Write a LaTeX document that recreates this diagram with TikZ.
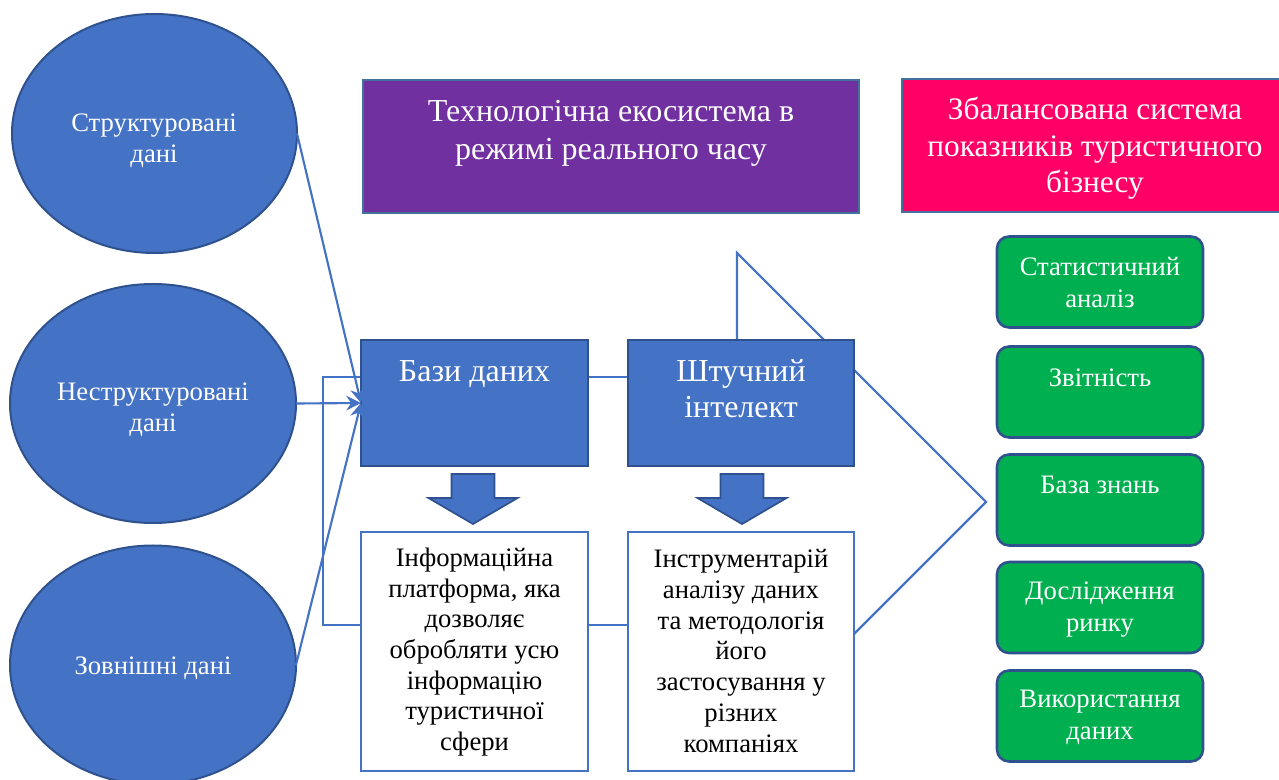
\documentclass[tikz,border=0pt]{standalone}
\usepackage{fontspec}
\setmainfont{Liberation Serif}
\usetikzlibrary{arrows.meta,shapes.geometric,backgrounds}
\definecolor{fillblue}{HTML}{4472C4}
\definecolor{edgeblue}{HTML}{2F528F}
\definecolor{steel}{HTML}{41719C}
\definecolor{purplebox}{HTML}{7030A0}
\definecolor{pinkbox}{HTML}{FF0066}
\definecolor{greenbox}{HTML}{00B050}
\begin{document}
\begin{tikzpicture}[x=0.75pt,y=-0.75pt,
  sz/.style 2 args={minimum width=#1*0.75pt, minimum height=#2*0.75pt},
  ell/.style={ellipse, fill=fillblue, draw=edgeblue, line width=1.5pt, inner sep=0pt, outer sep=0pt},
  bluebox/.style={rectangle, fill=fillblue, draw=edgeblue, line width=1.6pt, inner sep=0pt, outer sep=0pt},
  whitebox/.style={rectangle, fill=white, draw=fillblue, line width=1.6pt, inner sep=0pt, outer sep=0pt},
  headbox/.style={rectangle, draw=steel, line width=1.5pt, inner sep=0pt, outer sep=0pt},
  greenrect/.style={rectangle, rounded corners=9pt, fill=greenbox, draw=edgeblue, line width=1.9pt, inner sep=0pt, outer sep=0pt},
  wtext/.style={text=white, align=center, inner sep=0pt},
  btext/.style={text=black, align=center, inner sep=0pt},
  fsmall/.style={font=\fontsize{20}{23.5}\selectfont},
  fwhite/.style={font=\fontsize{20}{23}\selectfont},
  fgreen/.style={font=\fontsize{20}{24}\selectfont},
  fbig/.style={font=\fontsize{24}{28.5}\selectfont},
  fpink/.style={font=\fontsize{23.5}{27.5}\selectfont},
  fai/.style={font=\fontsize{24}{27}\selectfont},
  conn/.style={draw=fillblue, line width=1.6pt},
  arr/.style={conn, -{Stealth[length=11pt,width=11pt]}},
  blockarrow/.style={fill=fillblue, draw=edgeblue, line width=1.3pt, line join=miter}
]
\useasboundingbox (0,0) rectangle (1279,780);

% ellipses
\node[ell, sz={285}{239}] (e1) at (154.5,133.5) {};
\node[ell, sz={286}{239}] (e2) at (153,403.5) {};
\node[ell, sz={286}{239}] (e3) at (153,665) {};
\node[wtext, fsmall] (e1t) at (154,141) {Структуровані\\дані};
\node[wtext, fsmall] (e2t) at (153,409.5) {Неструктуровані\\дані};
\node[wtext, fsmall] (e3t) at (153,668.5) {Зовнішні дані};

% header boxes
\node[headbox, fill=purplebox, sz={496}{133}] (eco) at (611,146.5) {};
\node[wtext, fbig] (ecot) at (611,133.5) {Технологічна екосистема в\\режимі реального часу};
\node[headbox, fill=pinkbox, sz={386}{133}] (bsc) at (1095,145.5) {};
\node[wtext, fpink] (bsct) at (1095,148.5) {Збалансована система\\показників туристичного\\бізнесу};

% blue boxes
\node[bluebox, sz={227}{126}] (db) at (474.5,403) {};
\node[wtext, fbig] (dbt) at (474.5,374.5) {Бази даних};
\node[bluebox, sz={226}{126}] (ai) at (741,403) {};
\node[wtext, fai] (ait) at (741,389) {Штучний\\інтелект};

% white boxes
\node[whitebox, sz={227}{239}] (info) at (474.5,651.5) {};
\node[btext, fwhite] (infot) at (474.5,652) {Інформаційна\\платформа, яка\\дозволяє\\обробляти усю\\інформацію\\туристичної\\сфери};
\node[whitebox, sz={226}{239}] (tool) at (741,651.5) {};
\node[btext, font=\fontsize{20}{23.2}\selectfont] (toolt) at (741,651) {Інструментарій\\аналізу даних\\та методологія\\його\\застосування у\\різних\\компаніях};

% green boxes
\node[greenrect, sz={206}{91}] (g1) at (1100,282) {};
\node[wtext, fgreen] (g1t) at (1100,282.5) {Статистичний\\аналіз};
\node[greenrect, sz={206}{91}] (g2) at (1100,392) {};
\node[wtext, fgreen] (g2t) at (1100,378) {Звітність};
\node[greenrect, sz={206}{91}] (g3) at (1100,500) {};
\node[wtext, fgreen] (g3t) at (1100,485) {База знань};
\node[greenrect, sz={206}{91}] (g4) at (1100,607.5) {};
\node[wtext, fgreen] (g4t) at (1100,610) {Дослідження\\ринку};
\node[greenrect, sz={206}{91}] (g5) at (1100,716) {};
\node[wtext, fgreen] (g5t) at (1100,717.5) {Використання\\даних};

% block arrows
\draw[blockarrow, shift={(473,0)}] (-21.5,474) -- (21.5,474) -- (21.5,498) -- (44.5,498) -- (0,524) -- (-44.5,498) -- (-21.5,498) -- cycle;
\draw[blockarrow, shift={(742,0)}] (-21.5,474) -- (21.5,474) -- (21.5,498) -- (44.5,498) -- (0,524) -- (-44.5,498) -- (-21.5,498) -- cycle;

% connectors
\draw[arr] (e1.east) -- (db.west);
\draw[arr] (e2.east) -- (db.west);
\draw[arr] (e3.east) -- (db.west);

\begin{scope}[on background layer]
  \draw[conn] (db.west |- 0,377) -- (323,377) -- (323,625) -- (info.west |- 0,625);
  \draw[conn] (db.east |- 0,377) -- (ai.west |- 0,377);
  \draw[conn] (info.east |- 0,625) -- (tool.west |- 0,625);
  \draw[conn, line join=miter] (ai.north -| 737,0) -- (737,253) -- (986,502) -- (tool.east |- 0,634);
\end{scope}
\end{tikzpicture}
\end{document}
